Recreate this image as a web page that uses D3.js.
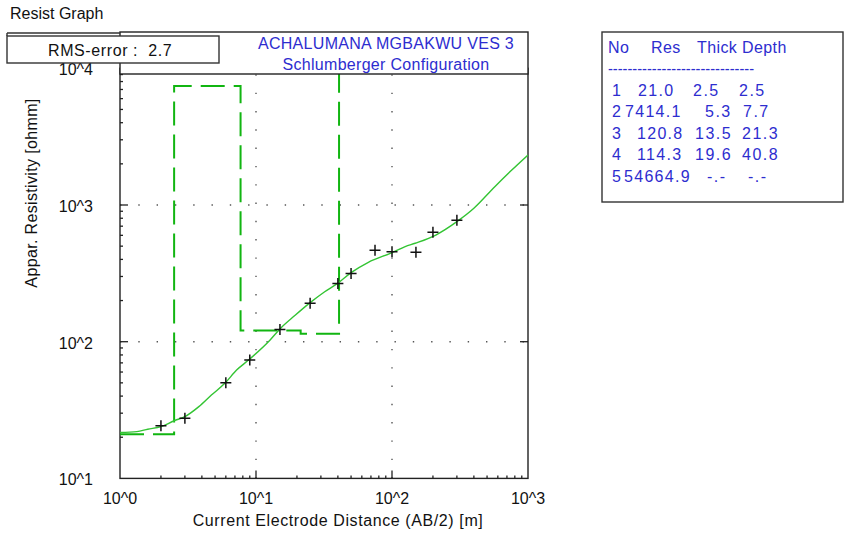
<!DOCTYPE html>
<html>
<head>
<meta charset="utf-8">
<script src="https://cdn.jsdelivr.net/npm/d3@7"></script>
<style>
  html, body { margin: 0; padding: 0; background: #ffffff; }
  svg { display: block; font-family: "Liberation Sans", Arial, sans-serif; }
</style>
</head>
<body>
<svg id="chart" width="847" height="537"></svg>
<script>
// ---- Data ----
const chartTitle = "Resist Graph";
const rmsError = "2.7";
const titleLines = ["ACHALUMANA MGBAKWU VES 3", "Schlumberger Configuration"];
const xAxisTitle = "Current Electrode Distance (AB/2) [m]";
const yAxisTitle = "Appar. Resistivity [ohmm]";
const xTickValues = [1, 10, 100, 1000];
const xTickLabels = ["10^0", "10^1", "10^2", "10^3"];
const yTickValues = [10, 100, 1000, 10000];
const yTickLabels = ["10^1", "10^2", "10^3", "10^4"];

// Field data (measured apparent resistivity)
const fieldAB2 = [2, 3, 6, 9, 15, 25, 40, 50, 75, 100, 150, 200, 300];
const fieldRho = [24.3, 27.5, 50.1, 73.5, 123, 191, 267, 316, 466, 455, 451, 631, 773];

// Calculated model curve
const curveAB2 = [1, 1.33, 1.6, 2, 2.5, 3, 3.8, 4.7, 5.9, 7.2, 9, 12.7, 15, 19.4, 25, 32, 40, 50, 67, 100, 125, 148, 210, 300, 400, 570, 760, 1000];
const curveRho = [21.7, 22.0, 22.9, 23.9, 26.4, 28.3, 33.5, 40.7, 49.6, 62, 74.7, 103, 124, 156, 193, 232, 268, 320, 381, 448, 496, 525, 603, 755, 946, 1360, 1800, 2320];

// Layer model
const layerNo = [1, 2, 3, 4, 5];
const layerRes = [21.0, 7414.1, 120.8, 114.3, 54664.9];
const layerThick = [2.5, 5.3, 13.5, 19.6];
const layerDepth = [2.5, 7.7, 21.3, 40.8];

// ---- Layout (table cell start positions, not data) ----
const colNoX = 612;
const colResX = [638, 625, 637, 637, 624];
const colThickX = [693, 705, 695, 695, 707];
const colDepthX = [739, 743, 742, 742, 748];

// ---- Drawing ----
const svg = d3.select("#chart");
const L = 120, R = 528, T = 68.3, B = 478.4;
const x = d3.scaleLog().domain([1, 1000]).range([L, R]);
const y = d3.scaleLog().domain([10, 10000]).range([B, T]);
const blue = "#2d2dcf";

svg.append("rect").attr("width", 847).attr("height", 537).attr("fill", "#ffffff");

svg.append("text").attr("x", 10).attr("y", 19).attr("font-size", 16).attr("fill", "#111").text(chartTitle);

svg.append("defs").append("clipPath").attr("id", "plotclip")
  .append("rect").attr("x", L).attr("y", T).attr("width", R - L).attr("height", B - T);

// grid (dotted) at major decades
const grid = svg.append("g").attr("stroke", "#555").attr("stroke-width", 1.4).attr("stroke-dasharray", "1.4,16.9");
[10, 100].forEach(v => {
  grid.append("line").attr("x1", x(v)).attr("x2", x(v)).attr("y1", B).attr("y2", T);
});
[100, 1000].forEach(v => {
  grid.append("line").attr("x1", L).attr("x2", R).attr("y1", y(v)).attr("y2", y(v));
});

// minor ticks
const axisG = svg.append("g").attr("stroke", "#222").attr("stroke-width", 1.3);
const minorX = [], minorY = [];
[1, 10, 100].forEach(d => { for (let k = 2; k <= 9; k++) minorX.push(d * k); });
[10, 100, 1000].forEach(d => { for (let k = 2; k <= 9; k++) minorY.push(d * k); });
minorX.forEach(v => axisG.append("line").attr("x1", x(v)).attr("x2", x(v)).attr("y1", B).attr("y2", B - 3));
minorY.forEach(v => axisG.append("line").attr("x1", L).attr("x2", L + 3).attr("y1", y(v)).attr("y2", y(v)));
// major ticks
[10, 100].forEach(v => axisG.append("line").attr("x1", x(v)).attr("x2", x(v)).attr("y1", B).attr("y2", B - 8));
[100, 1000].forEach(v => {
  axisG.append("line").attr("x1", L).attr("x2", L + 8).attr("y1", y(v)).attr("y2", y(v));
  axisG.append("line").attr("x1", R).attr("x2", R - 8).attr("y1", y(v)).attr("y2", y(v));
});
// frame
svg.append("rect").attr("x", L).attr("y", T).attr("width", R - L).attr("height", B - T)
  .attr("fill", "none").attr("stroke", "#222").attr("stroke-width", 1.4);

const plot = svg.append("g").attr("clip-path", "url(#plotclip)");

// layer model step line
const stepPts = [[1, layerRes[0]]];
layerDepth.forEach((d, i) => {
  stepPts.push([d, layerRes[i]]);
  stepPts.push([d, layerRes[i + 1]]);
});
plot.append("path")
  .attr("d", d3.line().x(p => x(p[0])).y(p => y(p[1]))(stepPts))
  .attr("fill", "none").attr("stroke", "#11b511").attr("stroke-width", 2)
  .attr("stroke-dasharray", "24,9");

// model curve
plot.append("path")
  .attr("d", d3.line().x(d => x(d)).y((d, i) => y(curveRho[i])).curve(d3.curveMonotoneX)(curveAB2))
  .attr("fill", "none").attr("stroke", "#33c433").attr("stroke-width", 1.4);

// field points
const cross = plot.append("g").attr("stroke", "#111").attr("stroke-width", 1.5);
fieldAB2.forEach((a, i) => {
  const cx = x(a), cy = y(fieldRho[i]);
  cross.append("line").attr("x1", cx - 5.5).attr("x2", cx + 5.5).attr("y1", cy).attr("y2", cy);
  cross.append("line").attr("x1", cx).attr("x2", cx).attr("y1", cy - 5.5).attr("y2", cy + 5.5);
});

// tick labels
xTickValues.forEach((v, i) => {
  svg.append("text").attr("x", x(v)).attr("y", 504).attr("text-anchor", "middle")
    .attr("font-size", 16).attr("fill", "#111").text(xTickLabels[i]);
});
yTickValues.forEach((v, i) => {
  svg.append("text").attr("x", 93).attr("y", y(v) + 7).attr("text-anchor", "end")
    .attr("font-size", 16).attr("fill", "#111").text(yTickLabels[i]);
});

// axis titles
svg.append("text").attr("x", 338).attr("y", 526).attr("text-anchor", "middle")
  .attr("font-size", 16).attr("letter-spacing", 0.6).attr("fill", "#111").text(xAxisTitle);
svg.append("text").attr("transform", "translate(37,193) rotate(-90)").attr("text-anchor", "middle")
  .attr("font-size", 16).attr("letter-spacing", 0.35).attr("fill", "#111").text(yAxisTitle);

// title box
svg.append("rect").attr("x", L).attr("y", 32).attr("width", R - L).attr("height", 42)
  .attr("fill", "#ffffff").attr("stroke", "#222").attr("stroke-width", 1.4);
titleLines.forEach((t, i) => {
  svg.append("text").attr("x", 386).attr("y", 49 + i * 21).attr("text-anchor", "middle")
    .attr("font-size", 16).attr("letter-spacing", 0.3).attr("fill", blue).text(t);
});

// RMS box
svg.append("line").attr("x1", 7).attr("x2", L).attr("y1", 33).attr("y2", 33).attr("stroke", "#333").attr("stroke-width", 1.4);
svg.append("rect").attr("x", 7).attr("y", 36).attr("width", 212).attr("height", 27)
  .attr("fill", "#ffffff").attr("stroke", "#333").attr("stroke-width", 1.4);
svg.append("line").attr("x1", 7).attr("x2", 7).attr("y1", 33).attr("y2", 36).attr("stroke", "#333").attr("stroke-width", 1.4);
svg.append("text").attr("x", 48).attr("y", 56).attr("font-size", 16).attr("letter-spacing", 0.6).attr("fill", "#111")
  .attr("xml:space", "preserve").style("white-space", "pre").text("RMS-error :  " + rmsError);

// layer table
svg.append("rect").attr("x", 602).attr("y", 32).attr("width", 241).attr("height", 170)
  .attr("fill", "#ffffff").attr("stroke", "#333").attr("stroke-width", 1.4);
const tbl = svg.append("g").attr("font-size", 16).attr("fill", blue);
const hdr = [["No", 608], ["Res", 651], ["Thick", 697], ["Depth", 742]];
hdr.forEach(h => tbl.append("text").attr("x", h[1]).attr("y", 53).attr("letter-spacing", 0.4).text(h[0]));
tbl.append("text").attr("x", 608).attr("y", 74).attr("textLength", 146).attr("lengthAdjust", "spacingAndGlyphs")
  .text("-".repeat(30));
const fmt = d3.format(".1f");
layerNo.forEach((n, i) => {
  const by = 95.5 + i * 21.6;
  tbl.append("text").attr("x", colNoX).attr("y", by).text(n);
  tbl.append("text").attr("x", colResX[i]).attr("y", by).attr("letter-spacing", 1.3).text(fmt(layerRes[i]));
  tbl.append("text").attr("x", colThickX[i]).attr("y", by).attr("letter-spacing", 1.5)
    .text(i < 4 ? fmt(layerThick[i]) : "-.-");
  tbl.append("text").attr("x", colDepthX[i]).attr("y", by).attr("letter-spacing", 1.5)
    .text(i < 4 ? fmt(layerDepth[i]) : "-.-");
});
</script>
</body>
</html>
